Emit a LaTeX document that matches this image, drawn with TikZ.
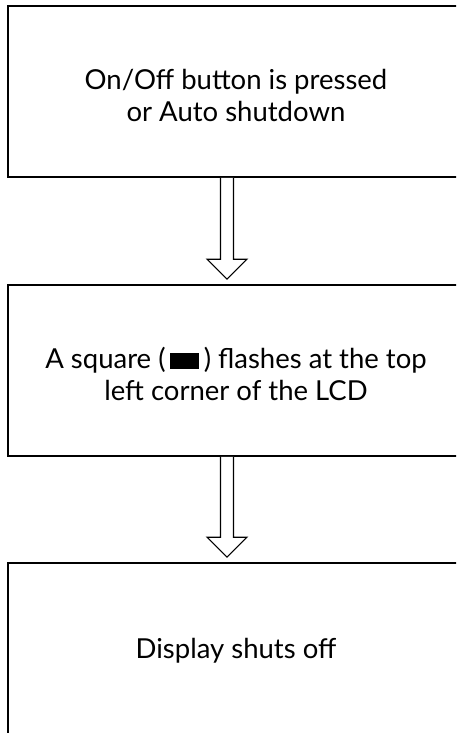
\documentclass[tikz,border=0pt]{standalone}
\usepackage{fontspec}
\setmainfont{Lato}
\usetikzlibrary{positioning}
\tikzset{
  stepbox/.style={draw, line width=1.6pt, minimum width=456pt, minimum height=171pt, inner sep=0pt},
  steptext/.style={align=center, font=\fontsize{27.5}{32}\selectfont, inner sep=0pt},
  hollow/.style={draw, line width=1.1pt, fill=white, line join=miter}
}
\begin{document}
\begin{tikzpicture}[x=1pt,y=-1pt]
	  \useasboundingbox (0,0) rectangle (456,733);
	  \clip (0,0) rectangle (456,733);
	  % the three steps
	  \node[stepbox] (pressed) at (236,91.5) {};
	  \node[stepbox] (flash) at (236,370.5) {};
	  \node[stepbox] (off) at (236,648.5) {};
	  \node[steptext] (pressedtxt) at ([yshift=-3.5pt]pressed.center) {On/Off button is pressed\\or Auto shutdown};
	  \node[steptext] (flashtxt) at ([yshift=-3.5pt]flash.center) {A square (\,\rule{29pt}{16pt}\,) flashes at the top\\left corner of the LCD};
	  \node[steptext] (offtxt) at ([yshift=-2.5pt]off.center) {Display shuts off};
	  % hollow arrows between them
	  \foreach \a/\b in {pressed/flash, flash/off} {
	    \draw[hollow] ([xshift=-15.5pt]\a.south) -- ([xshift=-15.5pt,yshift=25pt]\b.north)
	      -- ([xshift=-29pt,yshift=25pt]\b.north) -- ([xshift=-9pt,yshift=5pt]\b.north)
	      -- ([xshift=11pt,yshift=25pt]\b.north) -- ([xshift=-2.5pt,yshift=25pt]\b.north)
	      -- ([xshift=-2.5pt]\a.south);
	  }
	\end{tikzpicture}
\end{document}
